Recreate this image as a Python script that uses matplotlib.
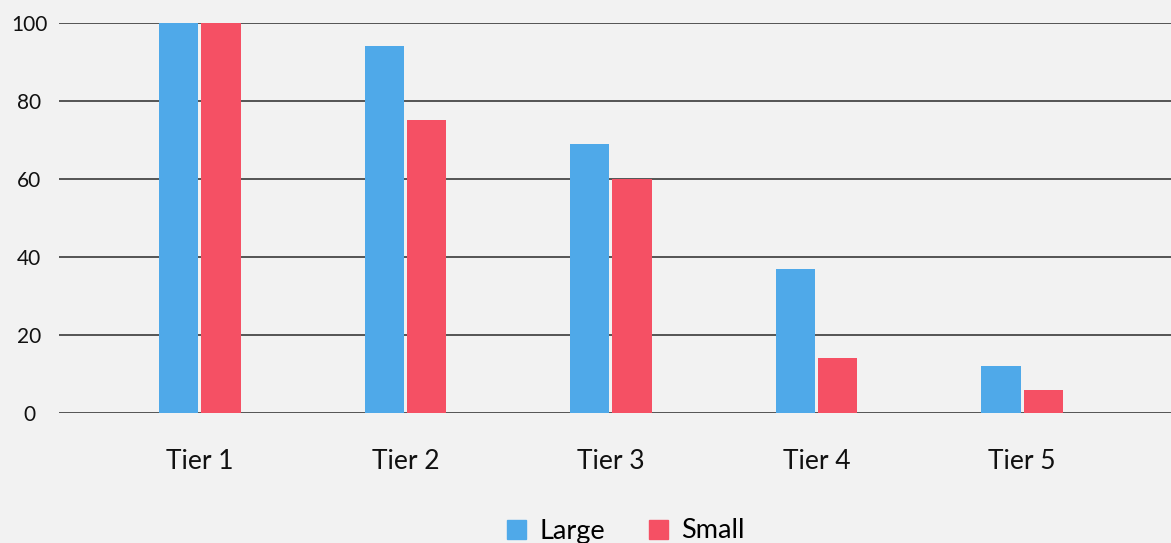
import matplotlib
matplotlib.use("Agg")
import numpy as np
from matplotlib import pyplot as plt
from matplotlib.patches import Patch

tiers = ["Tier 1", "Tier 2", "Tier 3", "Tier 4", "Tier 5"]
large = [100, 94, 69, 37, 12]
small = [100, 75, 60, 14, 6]
yticks = [0, 20, 40, 60, 80, 100]

blue = "#4FA9E9"
red = "#F55064"
bg = "#F2F2F2"

plt.rcParams["font.family"] = ["Lato", "DejaVu Sans"]

W, H = 1171, 543
fig = plt.figure(figsize=(W / 100, H / 100), dpi=100, facecolor=bg)
ax = fig.add_axes([59 / W, 1 - 413 / H, 1 - 59 / W, 390 / H], facecolor=bg)

x = np.arange(len(tiers))
bw = 0.19
gap = 0.0146
ax.bar(x - (bw + gap) / 2, large, width=bw, color=blue, label="Large", zorder=3)
ax.bar(x + (bw + gap) / 2, small, width=bw, color=red, label="Small", zorder=3)

ax.set_xlim(-0.686, 4.725)
ax.set_ylim(0, 100)
ax.set_yticks(yticks)
ax.set_xticks(x)
ax.set_xticklabels(tiers, fontsize=19, color="#111111")
ax.tick_params(axis="x", length=0, pad=26)
ax.tick_params(axis="y", length=0, pad=21.5, labelsize=15, labelcolor="#111111")
for lbl in ax.get_yticklabels():
    lbl.set_horizontalalignment("center")

ax.set_axisbelow(True)
ax.yaxis.grid(True, color="#2a2a2a", linewidth=1.1)
for s in ax.spines.values():
    s.set_visible(False)

# legend at bottom
handles = [Patch(color=blue, label="Large"), Patch(color=red, label="Small")]
fig.legend(handles=handles, loc="center", bbox_to_anchor=(626 / W, 1 - 531 / H),
           ncol=2, frameon=False, fontsize=19.5, handlelength=0.7, handleheight=0.7,
           handletextpad=0.5, columnspacing=1.6)

plt.savefig("out.png", dpi=100, facecolor=bg)
